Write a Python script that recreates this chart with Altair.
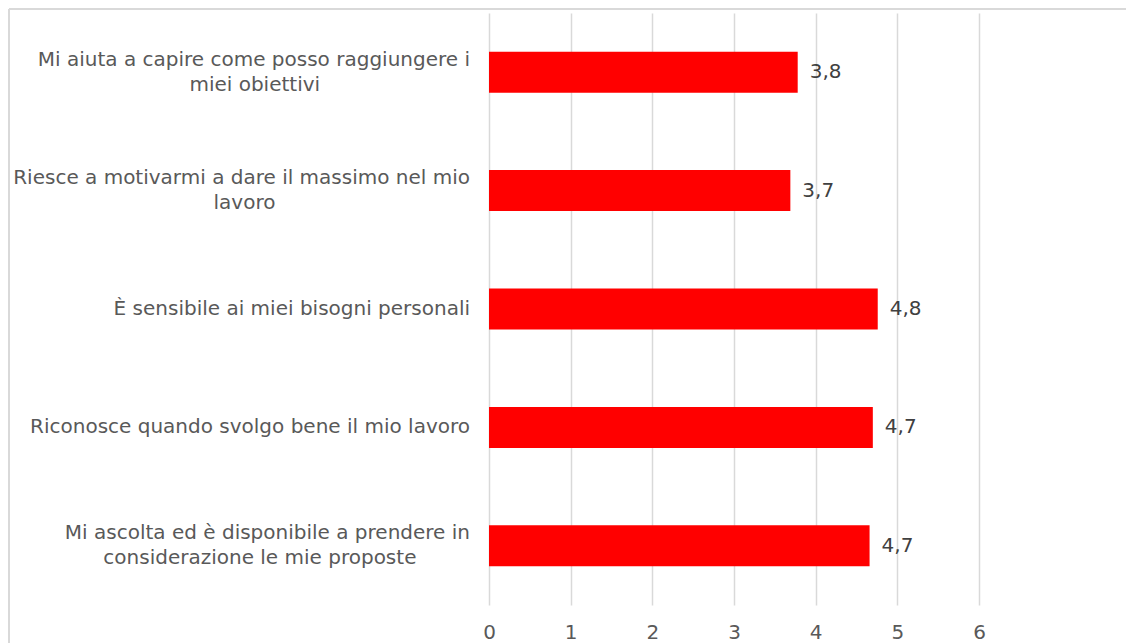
import altair as alt
import pandas as pd

# Data
line1 = [
    "Mi aiuta a capire come posso raggiungere i",
    "Riesce a motivarmi a dare il massimo nel mio",
    "È sensibile ai miei bisogni personali",
    "Riconosce quando svolgo bene il mio lavoro",
    "Mi ascolta ed è disponibile a prendere in",
]
line2 = [
    "miei obiettivi",
    "lavoro",
    "",
    "",
    "considerazione le mie proposte",
]
values = [3.78, 3.69, 4.76, 4.70, 4.66]
x_ticks = [0, 1, 2, 3, 4, 5, 6]

cats = [(a + " " + b).strip() for a, b in zip(line1, line2)]
df = pd.DataFrame({"cat": cats, "l1": line1, "l2": line2, "value": values})

FONT = "Verdana, DejaVu Sans"
GRID = "#d9d9d9"

y_enc = alt.Y(
    "cat:N",
    sort=cats,
    scale=alt.Scale(paddingInner=0.654, paddingOuter=0.327),
    axis=None,
)

base = alt.Chart(df)

bars = base.mark_bar(color="#FF0000").encode(
    x=alt.X(
        "value:Q",
        scale=alt.Scale(domain=[0, 6], nice=False, zero=True),
        axis=alt.Axis(
            values=x_ticks,
            title=None,
            grid=True,
            gridColor=GRID,
            gridWidth=1.5,
            ticks=False,
            domain=False,
            labelFont=FONT,
            labelFontSize=20,
            labelColor="#595959",
            labelPadding=17,
            labelBaseline="top",
            labelFlush=False,
            labelOverlap=False,
        ),
    ),
    y=y_enc,
)

value_labels = base.transform_calculate(
    lab="replace(format(datum.value, '.1f'), '.', ',')"
).mark_text(
    align="left", baseline="middle", dx=12, font=FONT, fontSize=20, color="#404040"
).encode(
    x=alt.X("value:Q", scale=alt.Scale(domain=[0, 6], nice=False), axis=None),
    y=y_enc,
    text="lab:N",
)

single = base.transform_filter("datum.l2 == ''").mark_text(
    align="right", baseline="middle", font=FONT, fontSize=20, color="#595959"
).encode(x=alt.value(-19), y=y_enc, text="l1:N")

two_first = base.transform_filter("datum.l2 != ''").mark_text(
    align="right", baseline="middle", dy=-12.5, font=FONT, fontSize=20, color="#595959"
).encode(x=alt.value(-19), y=y_enc, text="l1:N")

two_second = base.transform_filter("datum.l2 != ''").transform_calculate(
    cx="-19 - 10.25 * length(datum.l1) / 2"
).mark_text(
    align="center", baseline="middle", dy=12.5, font=FONT, fontSize=20, color="#595959"
).encode(x=alt.X("cx:Q", scale=None, axis=None), y=y_enc, text="l2:N")

frame_left = alt.Chart(df).mark_rule(color=GRID, strokeWidth=1.5).encode(
    x=alt.value(-480), y=alt.value(-4), y2=alt.value(800)
)
frame_top = alt.Chart(df).mark_rule(color=GRID, strokeWidth=1.5).encode(
    x=alt.value(-480), x2=alt.value(900), y=alt.value(-4)
)

chart = (
    alt.layer(frame_left, frame_top, bars, value_labels, single, two_first, two_second)
    .resolve_scale(x="independent")
    .properties(
        width=490,
        height=592,
        padding={"left": 481, "top": 5, "right": 147, "bottom": 38},
        autosize=alt.AutoSizeParams(type="none"),
        background="white",
    )
    .configure_view(stroke=None)
)

chart.save("out.html", embed_options={"renderer": "svg", "actions": False})
